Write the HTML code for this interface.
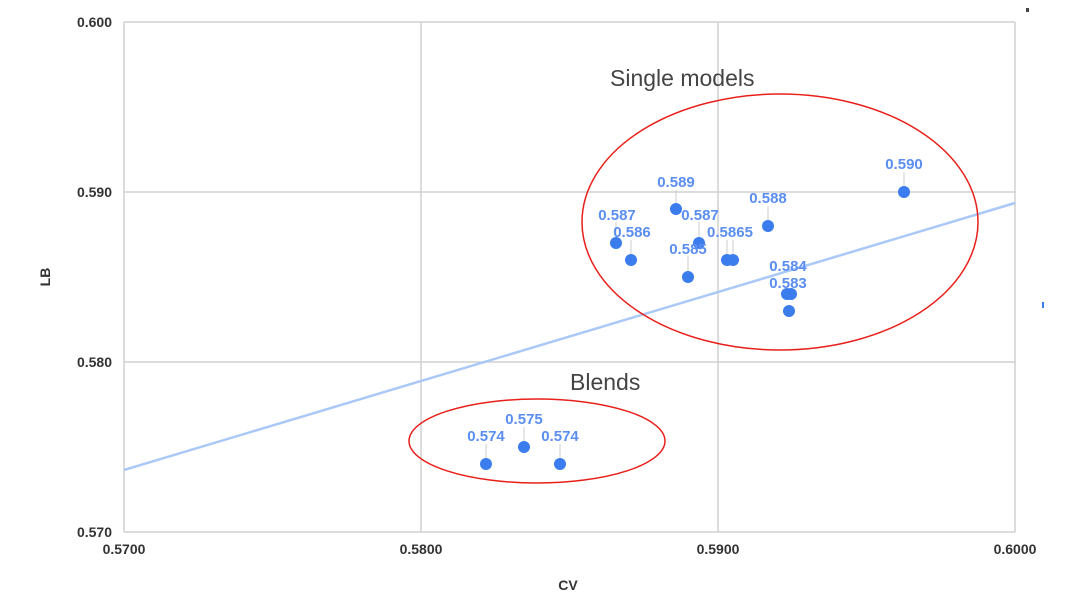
<!DOCTYPE html>
<html><head><style>body{margin:0;background:#fff}</style></head><body>
<svg width="1080" height="610" xmlns="http://www.w3.org/2000/svg" font-family="Liberation Sans, sans-serif">
<g stroke="#d0d0d0" stroke-width="1.5" fill="none">
<line x1="124" y1="22" x2="1015" y2="22"/><line x1="124" y1="192" x2="1015" y2="192"/><line x1="124" y1="362" x2="1015" y2="362"/><line x1="124" y1="532" x2="1015" y2="532"/>
<line x1="124" y1="22" x2="124" y2="532"/><line x1="421" y1="22" x2="421" y2="532"/><line x1="718" y1="22" x2="718" y2="532"/><line x1="1015" y1="22" x2="1015" y2="532"/>
</g>
<g font-size="14" fill="#333" text-anchor="end" font-weight="bold">
<text x="112" y="27">0.600</text><text x="112" y="197">0.590</text><text x="112" y="367">0.580</text><text x="112" y="537">0.570</text>
</g>
<g font-size="14" fill="#333" text-anchor="middle" font-weight="bold">
<text x="124" y="554">0.5700</text><text x="421" y="554">0.5800</text><text x="718" y="554">0.5900</text><text x="1015" y="554">0.6000</text>
<text x="568" y="590">CV</text>
<text transform="translate(50,277) rotate(-90)">LB</text>
</g>
<line x1="124" y1="470" x2="1015" y2="203" stroke="#aac8f8" stroke-width="2.5"/>
<g stroke="#ccc" stroke-width="1">
<line x1="616" y1="243" x2="616" y2="222"/><line x1="631" y1="260" x2="631" y2="240"/><line x1="676" y1="209" x2="676" y2="190"/><line x1="699" y1="243" x2="699" y2="222"/><line x1="688" y1="277" x2="688" y2="256"/><line x1="727" y1="260" x2="727" y2="240"/><line x1="733" y1="260" x2="733" y2="240"/><line x1="768" y1="226" x2="768" y2="206"/><line x1="904" y1="192" x2="904" y2="172"/><line x1="486" y1="464" x2="486" y2="444"/><line x1="524" y1="447" x2="524" y2="427"/><line x1="560" y1="464" x2="560" y2="444"/>
</g>
<g fill="#3b7ded">
<circle cx="616" cy="243" r="6"/><circle cx="631" cy="260" r="6"/><circle cx="676" cy="209" r="6"/><circle cx="699" cy="243" r="6"/><circle cx="688" cy="277" r="6"/><circle cx="727" cy="260" r="6"/><circle cx="733" cy="260" r="6"/><circle cx="768" cy="226" r="6"/><circle cx="787" cy="294" r="6"/><circle cx="791" cy="294" r="6"/><circle cx="789" cy="311" r="6"/><circle cx="904" cy="192" r="6"/><circle cx="486" cy="464" r="6"/><circle cx="524" cy="447" r="6"/><circle cx="560" cy="464" r="6"/>
</g>
<g font-size="15" fill="#5a8ef0" text-anchor="middle" font-weight="bold">
<text x="617" y="220">0.587</text><text x="632" y="237">0.586</text><text x="676" y="187">0.589</text><text x="700" y="220">0.587</text><text x="688" y="254">0.585</text><text x="730" y="237">0.5865</text><text x="768" y="203">0.588</text><text x="788" y="271">0.584</text><text x="788" y="288">0.583</text><text x="904" y="169">0.590</text><text x="486" y="441">0.574</text><text x="524" y="424">0.575</text><text x="560" y="441">0.574</text>
</g>
<g fill="none" stroke="#e8201a" stroke-width="1.5">
<ellipse cx="780" cy="222" rx="198" ry="128"/>
<ellipse cx="537" cy="441" rx="128" ry="42"/>
</g>
<g font-size="23" fill="#444">
<text x="610" y="86">Single models</text><text x="570" y="390">Blends</text>
</g>
<rect x="1026" y="8" width="3" height="4" fill="#444"/>
<rect x="1042" y="302" width="2" height="6" fill="#3b7ded"/>
</svg>
</body></html>
